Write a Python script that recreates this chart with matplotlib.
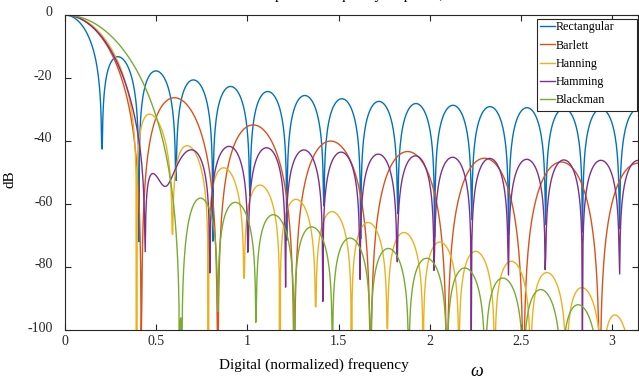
import numpy as np
import matplotlib
matplotlib.use("Agg")
import matplotlib.pyplot as plt
from matplotlib.transforms import ScaledTranslation
from matplotlib.patches import Rectangle

plt.rcParams['font.family'] = ['Liberation Serif', 'DejaVu Serif']

# window length and names (MATLAB style windows, freqz grid of 1000 points)
N = 31
n_freq = 1000
names = ["Rectangular", "Barlett", "Hanning", "Hamming", "Blackman"]
colors = ["#0072BD", "#D95319", "#EDB120", "#7E2F8E", "#77AC30"]
xticks = [0, 0.5, 1, 1.5, 2, 2.5, 3]
xticklabels = ["0", "0.5", "1", "1.5", "2", "2.5", "3"]
yticks = [0, -20, -40, -60, -80, -100]

windows = [
    np.ones(N),
    np.bartlett(N),
    np.hanning(N + 2)[1:-1],
    np.hamming(N),
    np.blackman(N),
]

omega = np.pi * np.arange(n_freq) / n_freq

fig = plt.figure(figsize=(6.39, 3.81), dpi=100)
ax = fig.add_axes([65 / 639, 1 - 330 / 381, 573 / 639, 315 / 381])

for w, name, c in zip(windows, names, colors):
    H = np.fft.fft(w, 2 * n_freq)[:n_freq]
    mag = np.abs(H)
    db = 20 * np.log10(mag / mag.max() + 1e-300)
    ax.plot(omega, db, color=c, lw=1.0, label=name)

ax.set_xlim(0, np.pi)
ax.set_ylim(-100, 0)
ax.set_xticks(xticks)
ax.set_xticklabels(xticklabels)
ax.set_yticks(yticks)
ax.set_yticklabels([str(v) for v in yticks])
ax.tick_params(direction='in', top=True, right=True, length=4, width=0.8,
               labelsize=10, colors='#262626')
ax.tick_params(axis='x', pad=3.5)
ax.tick_params(axis='y', pad=9)
# MATLAB draws y tick labels a little higher
off = ScaledTranslation(0, 3.5 / 100, fig.dpi_scale_trans)
for lab in ax.get_yticklabels():
    lab.set_transform(lab.get_transform() + off)
for s in ax.spines.values():
    s.set_color('#262626')
    s.set_linewidth(0.8)

ax.set_xlabel("Digital (normalized) frequency", fontsize=11)
ax.xaxis.set_label_coords((314 - 65) / 573, -(358 - 330) / 315)
ax.set_ylabel("dB", fontsize=11)
ax.yaxis.label.set_va('center')
ax.yaxis.set_label_coords((10 - 65) / 573, 0.48)
fig.text(477 / 639, 1 - 371 / 381, "ω", fontsize=13, style='italic',
         ha='center', va='center')
fig.text(341 / 639, 1 + 1.5 / 381, "Windows' amplitude frequency response, N = 31",
         fontsize=11, ha='center', va='baseline')

# legend with MATLAB-like wide box
leg = fig.legend(loc='upper left', bbox_to_anchor=(533 / 639, 1 - 14 / 381),
                 fontsize=8.7, handlelength=1.2, handletextpad=0.1,
                 labelspacing=0.52, borderpad=0.1, frameon=False)
fig.add_artist(Rectangle((537 / 639, 1 - 111 / 381), 100 / 639, 92 / 381,
                         transform=fig.transFigure, facecolor='white',
                         edgecolor='#262626', lw=0.8, zorder=leg.get_zorder() - 0.1))

fig.savefig("out.png", dpi=100)
